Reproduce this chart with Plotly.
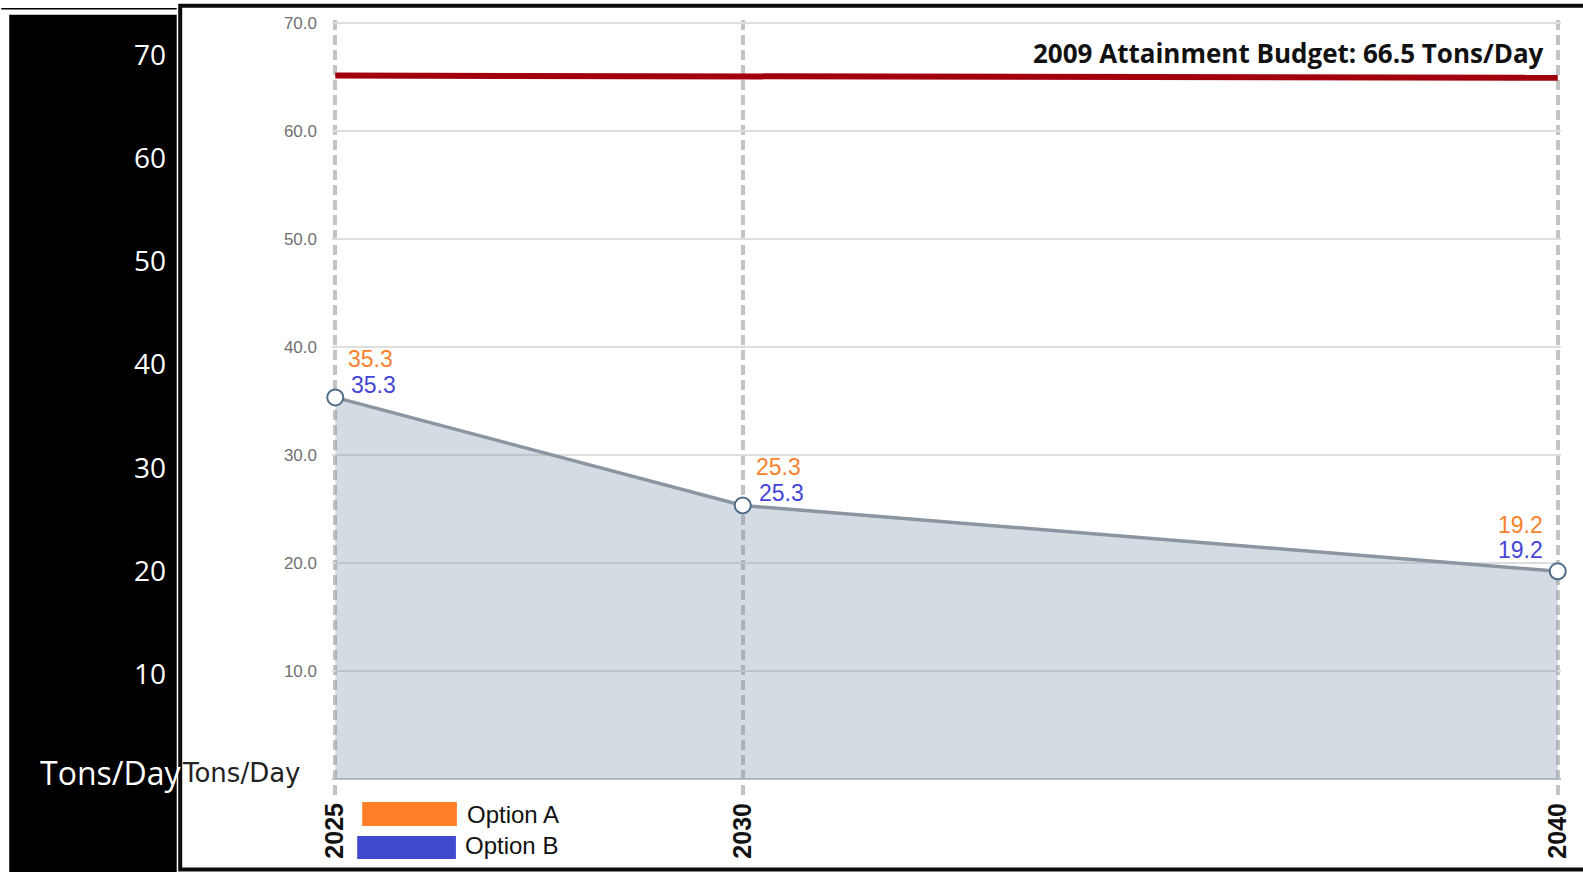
import plotly.graph_objects as go

# ---------------- data ----------------
years = [2025, 2030, 2040]
year_labels = ["2025", "2030", "2040"]
option_a = [35.3, 25.3, 19.2]
option_b = [35.3, 25.3, 19.2]
budget_years = [2025, 2040]
budget_vals = [65.1, 64.9]
budget_label = "2009 Attainment Budget: 66.5 Tons/Day"
inner_ticks = [10, 20, 30, 40, 50, 60, 70]
inner_tick_text = ["10.0", "20.0", "30.0", "40.0", "50.0", "60.0", "70.0"]
outer_ticks = [10, 20, 30, 40, 50, 60, 70]
outer_tick_text = ["10", "20", "30", "40", "50", "60", "70"]
unit_label = "Tons/Day"
series_names = ["Option A", "Option B"]

# ---------------- styles / geometry ----------------
W, H = 1583, 872
X0PX, X1PX = 335.0, 1561.0          # pixel of first / last year
Y70PX, Y0PX = 23.0, 778.6           # pixel of 70 / 0
XPAD = 0.04                          # years of padding so edge gridlines show
YTOP, YBOT = 70.25, -1.7
ppx = (X1PX - X0PX) / (years[-1] - years[0])
ppy = (Y0PX - Y70PX) / 70.0
ML = X0PX - XPAD * ppx
MR = W - (X1PX + XPAD * ppx)
MT = Y0PX - YTOP * ppy
MB = H - (Y0PX - YBOT * ppy)
PW, PH = W - ML - MR, H - MT - MB

ORANGE = "#ff7f27"
BLUE = "#4149cc"
LABEL_ORANGE = "#f7812c"
LABEL_BLUE = "#4545d8"


def px(x):
    return (x - ML) / PW


def py(y):
    return (H - MB - y) / PH


fig = go.Figure()

# area (shared by both options)
fig.add_trace(go.Scatter(
    x=years, y=option_b, mode="lines+markers", fill="tozeroy",
    fillcolor="rgba(112,135,162,0.30)",
    line=dict(color="#8b96a2", width=3.5),
    marker=dict(symbol="circle", size=16, color="white",
                line=dict(color="#4f6d8a", width=2)),
    cliponaxis=False, showlegend=False, hoverinfo="skip",
))

# budget line
fig.add_trace(go.Scatter(
    x=budget_years, y=budget_vals, mode="lines",
    line=dict(color="#a3000d", width=6),
    showlegend=False, hoverinfo="skip",
))

# invisible trace to activate the outer (decorative) axis
fig.add_trace(go.Scatter(x=[years[0]], y=[None], yaxis="y2", showlegend=False,
                         hoverinfo="skip"))

annotations = []
n = len(years)
for i, (yr, a, b) in enumerate(zip(years, option_a, option_b)):
    last = i == n - 1
    anchor = "right" if last else "left"
    xs = -13 if last else 14
    ya, yb = (46, 21) if last else (38, 12)
    annotations.append(dict(x=yr, y=a, xref="x", yref="y", text=f"{a:.1f}",
                            showarrow=False, xanchor=anchor, yanchor="middle",
                            xshift=xs - (0 if last else 3), yshift=ya,
                            font=dict(family="Liberation Sans, Arial", size=23,
                                      color=LABEL_ORANGE)))
    annotations.append(dict(x=yr, y=b, xref="x", yref="y", text=f"{b:.1f}",
                            showarrow=False, xanchor=anchor, yanchor="middle",
                            xshift=xs, yshift=yb,
                            font=dict(family="Liberation Sans, Arial", size=23,
                                      color=LABEL_BLUE)))

# budget title
annotations.append(dict(x=px(1549), y=py(53), xref="paper", yref="paper",
                        text=f"<b>{budget_label}</b>", showarrow=False,
                        xanchor="right", yanchor="middle",
                        font=dict(family="Open Sans", size=26, color="#111111")))

# unit labels
annotations.append(dict(x=px(303), y=py(773), xref="paper", yref="paper",
                        text=unit_label, showarrow=False, xanchor="right",
                        yanchor="middle",
                        font=dict(family="DejaVu Sans", size=26, color="#222222")))
annotations.append(dict(x=px(182), y=py(772), xref="paper", yref="paper",
                        text=unit_label, showarrow=False, xanchor="right",
                        yanchor="middle",
                        font=dict(family="Open Sans", size=32, color="white")))

# legend (drawn)
leg = [(series_names[0], ORANGE, 362, 457, 802, 826, 465, 814),
       (series_names[1], BLUE, 357, 456, 836, 859, 463, 845)]
shapes = []
for name, col, x0, x1, y0, y1, tx, ty in leg:
    shapes.append(dict(type="rect", xref="paper", yref="paper",
                       x0=px(x0), x1=px(x1), y0=py(y1), y1=py(y0),
                       fillcolor=col, line=dict(width=0), layer="above"))
    annotations.append(dict(x=px(tx), y=py(ty), xref="paper", yref="paper",
                            text=name, showarrow=False, xanchor="left",
                            yanchor="middle",
                            font=dict(family="Liberation Sans, Arial", size=24,
                                      color="#111111")))

# black side panel
shapes.append(dict(type="rect", xref="paper", yref="paper",
                   x0=px(8), x1=px(176), y0=py(875), y1=py(15),
                   fillcolor="black", line=dict(width=0), layer="below"))
# thin top line
shapes.append(dict(type="line", xref="paper", yref="paper",
                   x0=px(0), x1=px(176), y0=py(9), y1=py(9),
                   line=dict(color="black", width=1.5), layer="below"))
# framed panel border
shapes.append(dict(type="rect", xref="paper", yref="paper",
                   x0=px(179.5), x1=px(1590), y0=py(869.5), y1=py(6),
                   fillcolor="rgba(0,0,0,0)", line=dict(color="#0c0c0c", width=4),
                   layer="below"))

outer_scale = 10.325
outer_zero = 777.75
fig.update_layout(
    width=W, height=H,
    margin=dict(l=ML, r=MR, t=MT, b=MB, pad=0),
    paper_bgcolor="white", plot_bgcolor="white",
    showlegend=False,
    annotations=annotations, shapes=shapes,
    xaxis=dict(range=[years[0] - XPAD, years[-1] + XPAD], tickvals=years,
               ticktext=year_labels,
               tickangle=-90, showgrid=True, gridcolor="#c4c4c4", gridwidth=3.5,
               griddash="10px,5px", zeroline=False, showline=False, ticks="",
               tickfont=dict(family="Liberation Sans, Arial", size=25,
                             color="#111111", weight="bold")),
    yaxis=dict(range=[YBOT, YTOP], tickvals=inner_ticks, ticktext=inner_tick_text,
               showgrid=True, gridcolor="#dedede", gridwidth=2,
               zeroline=True, zerolinecolor="#b7bfc8", zerolinewidth=2,
               showline=False, ticks="", ticklabelstandoff=14,
               tickfont=dict(family="Liberation Sans, Arial", size=17,
                             color="#707070")),
    yaxis2=dict(range=[(outer_zero - (H - MB)) / outer_scale,
                       (outer_zero - MT) / outer_scale],
                overlaying="y", side="left", anchor="free", position=0,
                tickvals=outer_ticks, ticktext=outer_tick_text,
                showgrid=False, zeroline=False, showline=False, ticks="",
                ticklabelstandoff=166,
                tickfont=dict(family="Open Sans", size=28, color="white")),
)

fig.write_html("out.html", config={"displayModeBar": False},
               post_script="document.body.style.margin='0';document.body.style.overflow='hidden';")
